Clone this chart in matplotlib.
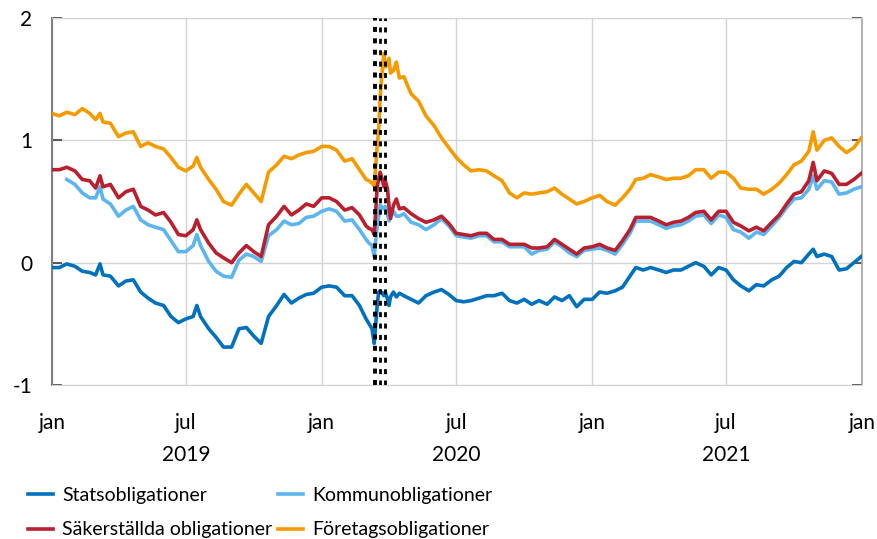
import matplotlib
matplotlib.use("Agg")
import matplotlib.pyplot as plt
import matplotlib.transforms as mtransforms
import numpy as np
import pandas as pd

plt.rcParams['font.family'] = ['Lato', 'DejaVu Sans']
plt.rcParams['lines.scale_dashes'] = False

# observation dates (roughly every ten days, denser around March 2020)
dates = pd.to_datetime([
    '2019-01-01', '2019-01-11', '2019-01-21', '2019-02-01', '2019-02-11', '2019-02-21',
    '2019-03-01', '2019-03-07', '2019-03-11', '2019-03-21', '2019-04-01', '2019-04-11',
    '2019-04-21', '2019-05-01', '2019-05-11', '2019-05-21', '2019-06-01', '2019-06-11',
    '2019-06-21', '2019-07-01', '2019-07-11', '2019-07-16', '2019-07-21', '2019-08-01',
    '2019-08-11', '2019-08-21', '2019-09-01', '2019-09-11', '2019-09-21', '2019-10-01',
    '2019-10-11', '2019-10-21', '2019-11-01', '2019-11-11', '2019-11-21', '2019-12-01',
    '2019-12-11', '2019-12-21',
    '2020-01-01', '2020-01-11', '2020-01-21', '2020-02-01', '2020-02-11', '2020-02-21',
    '2020-03-01', '2020-03-05', '2020-03-09', '2020-03-12', '2020-03-16', '2020-03-18',
    '2020-03-20', '2020-03-23', '2020-03-25', '2020-03-27', '2020-03-30',
    '2020-04-01', '2020-04-03', '2020-04-07', '2020-04-11', '2020-04-15', '2020-04-21',
    '2020-05-01', '2020-05-11', '2020-05-21', '2020-06-01', '2020-06-11', '2020-06-21',
    '2020-07-01', '2020-07-11', '2020-07-21', '2020-08-01', '2020-08-11', '2020-08-21',
    '2020-09-01', '2020-09-11', '2020-09-21', '2020-10-01', '2020-10-11', '2020-10-21',
    '2020-11-01', '2020-11-11', '2020-11-21', '2020-12-01', '2020-12-11', '2020-12-21',
    '2021-01-01', '2021-01-11', '2021-01-21', '2021-02-01', '2021-02-11', '2021-02-21',
    '2021-03-01', '2021-03-11', '2021-03-21', '2021-04-01', '2021-04-11', '2021-04-21',
    '2021-05-01', '2021-05-11', '2021-05-21', '2021-06-01', '2021-06-11', '2021-06-21',
    '2021-07-01', '2021-07-11', '2021-07-21', '2021-08-01', '2021-08-11', '2021-08-21',
    '2021-09-01', '2021-09-11', '2021-09-21', '2021-10-01', '2021-10-11', '2021-10-21',
    '2021-10-27', '2021-11-01', '2021-11-11', '2021-11-21', '2021-12-01', '2021-12-11',
    '2021-12-21', '2021-12-31',
])

stats = [
    -0.04, -0.04, -0.01, -0.03, -0.07, -0.08, -0.10, -0.01, -0.10, -0.11, -0.19, -0.15,
    -0.14, -0.24, -0.29, -0.33, -0.35, -0.44, -0.49, -0.46, -0.44, -0.35, -0.44, -0.54,
    -0.61, -0.69, -0.69, -0.54, -0.53, -0.60, -0.66, -0.44, -0.35, -0.26, -0.33, -0.29,
    -0.26, -0.25,
    -0.20, -0.19, -0.20, -0.27, -0.27, -0.35,
    -0.46, -0.50, -0.54, -0.66, -0.35, -0.24, -0.23, -0.25, -0.27, -0.24, -0.30,
    -0.35, -0.28, -0.24, -0.28, -0.25, -0.27,
    -0.30, -0.33, -0.27, -0.24, -0.22, -0.26,
    -0.31, -0.32, -0.31, -0.29, -0.27, -0.27, -0.25, -0.31, -0.33, -0.30, -0.34, -0.31,
    -0.34, -0.28, -0.31, -0.27, -0.36, -0.30,
    -0.30, -0.24, -0.25, -0.23, -0.20, -0.11, -0.04, -0.06, -0.04, -0.06, -0.08, -0.06,
    -0.06, -0.03, 0.00, -0.03, -0.10, -0.04, -0.06, -0.14, -0.19, -0.23, -0.18, -0.19,
    -0.14, -0.11, -0.04, 0.01, 0.00, 0.07, 0.11, 0.05, 0.07, 0.05, -0.06, -0.05,
    0.00, 0.05,
]

kommun = [
    np.nan, np.nan, 0.68, 0.64, 0.57, 0.53, 0.53, 0.62, 0.52, 0.48, 0.38, 0.43,
    0.46, 0.35, 0.31, 0.29, 0.27, 0.18, 0.09, 0.09, 0.14, 0.23, 0.14, 0.01,
    -0.07, -0.11, -0.12, 0.02, 0.07, 0.05, 0.01, 0.22, 0.27, 0.34, 0.31, 0.32,
    0.37, 0.38,
    0.42, 0.44, 0.42, 0.34, 0.35, 0.27,
    0.19, 0.16, 0.14, 0.05, 0.30, 0.38, 0.47, 0.45, 0.44, 0.46, 0.40,
    0.34, 0.37, 0.42, 0.38, 0.38, 0.40,
    0.33, 0.31, 0.27, 0.31, 0.36, 0.30,
    0.22, 0.21, 0.20, 0.22, 0.22, 0.17, 0.17, 0.13, 0.13, 0.13, 0.07, 0.10,
    0.11, 0.17, 0.13, 0.08, 0.05, 0.10,
    0.11, 0.12, 0.10, 0.07, 0.15, 0.24, 0.34, 0.34, 0.34, 0.31, 0.28, 0.30,
    0.31, 0.34, 0.38, 0.39, 0.32, 0.39, 0.37, 0.27, 0.25, 0.20, 0.25, 0.23,
    0.30, 0.37, 0.45, 0.52, 0.53, 0.60, 0.71, 0.60, 0.67, 0.66, 0.56, 0.57,
    0.60, 0.62,
]

sakerstallda = [
    0.76, 0.76, 0.78, 0.75, 0.68, 0.67, 0.61, 0.71, 0.62, 0.64, 0.53, 0.58,
    0.60, 0.46, 0.43, 0.39, 0.41, 0.33, 0.23, 0.22, 0.27, 0.35, 0.27, 0.16,
    0.08, 0.04, 0.00, 0.08, 0.14, 0.09, 0.05, 0.31, 0.38, 0.46, 0.39, 0.43,
    0.48, 0.46,
    0.53, 0.53, 0.50, 0.43, 0.45, 0.39,
    0.30, 0.28, 0.27, 0.23, 0.62, 0.68, 0.74, 0.68, 0.62, 0.67, 0.60,
    0.46, 0.36, 0.47, 0.52, 0.44, 0.45,
    0.40, 0.36, 0.33, 0.35, 0.38, 0.32,
    0.24, 0.23, 0.22, 0.24, 0.24, 0.19, 0.19, 0.15, 0.15, 0.15, 0.12, 0.12,
    0.13, 0.19, 0.15, 0.11, 0.07, 0.12,
    0.13, 0.15, 0.12, 0.10, 0.18, 0.27, 0.37, 0.37, 0.37, 0.34, 0.31, 0.33,
    0.34, 0.37, 0.41, 0.42, 0.35, 0.42, 0.42, 0.33, 0.30, 0.26, 0.29, 0.26,
    0.33, 0.39, 0.48, 0.56, 0.58, 0.67, 0.82, 0.67, 0.75, 0.73, 0.64, 0.64,
    0.68, 0.73,
]

foretag = [
    1.22, 1.20, 1.23, 1.21, 1.26, 1.22, 1.17, 1.22, 1.15, 1.14, 1.03, 1.06,
    1.07, 0.95, 0.98, 0.95, 0.93, 0.86, 0.78, 0.75, 0.79, 0.86, 0.78, 0.68,
    0.60, 0.50, 0.47, 0.56, 0.64, 0.57, 0.50, 0.74, 0.80, 0.87, 0.85, 0.88,
    0.90, 0.91,
    0.95, 0.95, 0.92, 0.83, 0.85, 0.76,
    0.68, 0.67, 0.65, 0.63, 0.95, 1.08, 1.35, 1.58, 1.71, 1.60, 1.62,
    1.67, 1.55, 1.57, 1.64, 1.51, 1.52,
    1.38, 1.32, 1.20, 1.12, 1.02, 0.94,
    0.86, 0.80, 0.75, 0.76, 0.75, 0.71, 0.67, 0.57, 0.53, 0.57, 0.56, 0.57,
    0.58, 0.61, 0.56, 0.52, 0.48, 0.50,
    0.53, 0.55, 0.50, 0.47, 0.53, 0.60, 0.68, 0.69, 0.72, 0.70, 0.68, 0.69,
    0.69, 0.71, 0.76, 0.76, 0.69, 0.74, 0.74, 0.69, 0.61, 0.60, 0.60, 0.56,
    0.60, 0.65, 0.72, 0.80, 0.83, 0.91, 1.07, 0.92, 1.00, 1.02, 0.95, 0.90,
    0.94, 1.02,
]

# policy announcements, spring 2020
event_dates = pd.to_datetime(['2020-03-13', '2020-03-20', '2020-03-27'])
event_widths = [2.8, 2.0, 2.0]

month_ticks = pd.to_datetime(['2019-01-01', '2019-07-01', '2020-01-01', '2020-07-01',
                              '2021-01-01', '2021-07-01', '2022-01-01'])
month_labels = ['jan', 'jul', 'jan', 'jul', 'jan', 'jul', 'jan']
year_pos = pd.to_datetime(['2019-07-01', '2020-07-01', '2021-07-01'])
year_labels = ['2019', '2020', '2021']

c_stats = '#0071BC'
c_kommun = '#5DB5F0'
c_saker = '#B81F2F'
c_foretag = '#F59B00'

fig = plt.figure(figsize=(8.78, 5.39), dpi=100)
ax = fig.add_axes([52 / 878, 1 - 385 / 539, 810 / 878, 367 / 539])

lw = 2.6
ax.plot(dates, foretag, color=c_foretag, lw=lw, label='Företagsobligationer', zorder=3)
ax.plot(dates, kommun, color=c_kommun, lw=lw, label='Kommunobligationer', zorder=3)
ax.plot(dates, sakerstallda, color=c_saker, lw=lw, label='Säkerställda obligationer', zorder=4)
ax.plot(dates, stats, color=c_stats, lw=lw, label='Statsobligationer', zorder=3)

for d, w in zip(event_dates, event_widths):
    ax.axvline(d, color='black', lw=w, dashes=(3.6, 4.6), zorder=5)

ax.set_xlim(month_ticks[0], month_ticks[-1])
ax.set_ylim(-1, 2)
ax.set_yticks([-1, 0, 1, 2])
ax.set_yticklabels(['-1', '0', '1', '2'])
ax.set_xticks(month_ticks)
ax.set_xticklabels(month_labels)

ax.grid(True, color='#d4d4d4', lw=1.0, zorder=0)
ax.set_axisbelow(True)

ax.tick_params(axis='y', direction='in', length=7, width=1.2, color='#404040',
               left=True, right=True, labelsize=15, pad=14)
ax.tick_params(axis='x', length=0, labelsize=15, pad=20)

ax.spines['left'].set_color('#808080')
ax.spines['left'].set_linewidth(1.5)
ax.spines['right'].set_color('#a6a6a6')
ax.spines['right'].set_linewidth(1.2)
ax.spines['top'].set_color('#d4d4d4')
ax.spines['bottom'].set_color('#d4d4d4')

trans = mtransforms.blended_transform_factory(ax.transData, ax.transAxes)
for x, lab in zip(year_pos, year_labels):
    ax.text(x, -0.19, lab, transform=trans, ha='center', va='center', fontsize=15)

handles, labels = ax.get_legend_handles_labels()
order = [3, 2, 1, 0]
fig.legend([handles[i] for i in order], [labels[i] for i in order],
           loc='upper left', bbox_to_anchor=(28 / 878, 1 - 487 / 539), ncol=2,
           frameon=False, fontsize=14, handlelength=1.3, handletextpad=0.45,
           columnspacing=0.3, labelspacing=0.9, borderpad=0, borderaxespad=0)

fig.savefig('out.png', dpi=100)
